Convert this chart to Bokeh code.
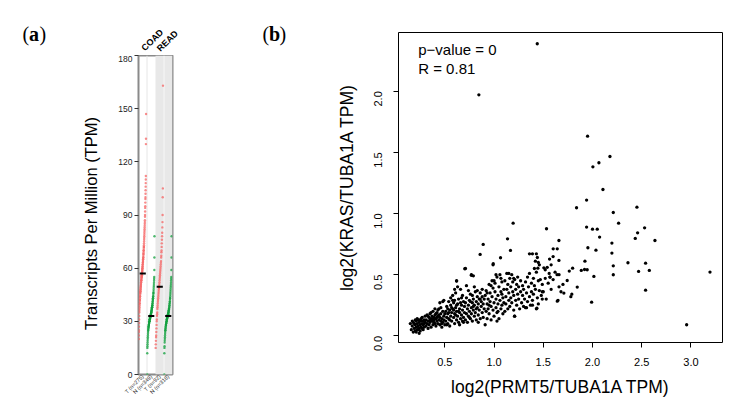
import math
from bokeh.plotting import figure
from bokeh.models import Range1d, FixedTicker, Label, BoxAnnotation, Span, NumeralTickFormatter
from bokeh.layouts import row, column
from bokeh.embed import file_html
from bokeh.resources import INLINE

# ---------------- Panel (a) data ----------------
group_labels = ["T (n=275)", "N (n=349)", "T (n=92)", "N (n=318)"]
cancer_types = ["COAD", "READ"]
medians_tpm = [57, 33, 49.5, 33]
yticks_a = [0, 30, 60, 90, 120, 150, 180]
ylabel_a = "Transcripts Per Million (TPM)"

tpm_t_coad = [20, 22, 24, 25, 27, 29, 31, 33, 35, 36,
              37, 38, 39, 40, 40, 41, 42, 42, 43, 44, 44, 45, 46, 46, 47, 47, 48, 48, 49, 49,
              50, 50, 51, 51, 52, 52, 53, 53, 53, 54, 54, 55, 55, 55, 56, 56, 56, 57, 57, 57,
              58, 58, 59, 59, 60, 60, 61, 61, 62, 62, 63, 63, 64, 64, 65, 65, 66, 66, 67, 68,
              68, 69, 70, 70, 71, 72, 72, 73, 74, 75,
              76, 77, 78, 79, 80, 81, 82, 83, 84, 85,
              86, 87, 89, 90, 92, 94, 95, 97, 99, 100, 102, 104, 106, 108, 110, 112, 130, 133, 147]
tpm_n_coad = [0, 12,
              15, 16, 17, 18, 19, 20, 21, 22, 23, 24,
              25, 25, 26, 26, 27, 27, 27, 28, 28, 28, 29, 29, 29, 30, 30, 30, 30, 31,
              31, 31, 31, 32, 32, 32, 32, 32, 33, 33, 33, 33, 33, 34, 34, 34, 34, 35, 35, 35,
              35, 36, 36, 36, 37, 37, 37, 38, 38, 38, 39, 39, 39, 40, 40, 41,
              41, 42, 42, 43, 43, 44, 44, 45, 46, 46, 47, 48, 49, 50, 51, 52, 53, 54,
              55, 59, 66, 78]
tpm_t_read = [15, 17, 19, 21, 22, 24, 26, 28, 30, 31, 33, 34, 35, 37, 38, 39, 40, 41, 42, 43,
              44, 45, 46, 47, 48, 49, 49, 50, 51, 52, 53, 54, 55, 56, 57, 58, 59, 60, 61, 62,
              63, 64, 66, 67, 69, 70, 72, 74, 76, 78, 80, 83, 86, 90, 100, 105, 163]
tpm_n_read = [0, 12, 15, 16, 18, 19, 20, 21, 22, 23, 24, 25, 25, 26, 26, 27, 27, 28, 28, 28,
              29, 29, 29, 30, 30, 30, 31, 31, 31, 31, 32, 32, 32, 32, 33, 33, 33, 33, 33, 34,
              34, 34, 34, 35, 35, 35, 36, 36, 36, 37, 37, 37, 38, 38, 39, 39, 40, 40, 41, 41,
              42, 43, 43, 44, 45, 46, 47, 48, 49, 50, 51, 52, 53, 54, 55, 59, 66, 78]

# ---------------- Panel (b) data ----------------
xticks_b = [0.5, 1.0, 1.5, 2.0, 2.5, 3.0]
yticks_b = [0.0, 0.5, 1.0, 1.5, 2.0]
xlabel_b = "log2(PRMT5/TUBA1A TPM)"
ylabel_b = "log2(KRAS/TUBA1A TPM)"
stat_lines = ["p\u2212value = 0", "R = 0.81"]

pts_low = [
    (0.15, 0.10), (0.16, 0.05), (0.17, 0.08), (0.18, 0.03), (0.18, 0.11), (0.19, 0.06), (0.20, 0.09),
    (0.20, 0.04), (0.21, 0.12), (0.21, 0.07), (0.22, 0.05), (0.22, 0.10), (0.23, 0.08), (0.23, 0.13),
    (0.24, 0.06), (0.24, 0.11), (0.25, 0.04), (0.25, 0.09), (0.26, 0.12), (0.26, 0.07), (0.27, 0.10),
    (0.27, 0.15), (0.28, 0.05), (0.28, 0.09), (0.29, 0.13), (0.29, 0.07), (0.30, 0.11), (0.30, 0.16),
    (0.19, 0.10), (0.22, 0.14), (0.24, 0.02), (0.26, 0.14), (0.28, 0.12), (0.17, 0.12), (0.20, 0.13),
    (0.23, 0.05), (0.25, 0.13), (0.27, 0.06), (0.29, 0.10), (0.21, 0.03),
    (0.31, 0.08), (0.31, 0.13), (0.32, 0.10), (0.32, 0.17), (0.33, 0.06), (0.33, 0.12), (0.34, 0.15),
    (0.34, 0.09), (0.35, 0.11), (0.35, 0.18), (0.36, 0.07), (0.36, 0.14), (0.37, 0.12), (0.37, 0.16),
    (0.38, 0.09), (0.38, 0.20), (0.39, 0.13), (0.39, 0.15), (0.40, 0.10), (0.40, 0.17), (0.41, 0.14),
    (0.41, 0.08), (0.42, 0.12), (0.42, 0.19), (0.43, 0.16), (0.43, 0.10), (0.44, 0.13), (0.44, 0.22),
    (0.45, 0.09), (0.45, 0.15), (0.46, 0.18), (0.46, 0.12), (0.47, 0.14), (0.47, 0.07), (0.48, 0.11),
    (0.48, 0.20), (0.49, 0.16), (0.49, 0.13), (0.50, 0.18), (0.50, 0.09), (0.36, 0.19), (0.38, 0.14),
    (0.40, 0.22), (0.42, 0.15), (0.44, 0.17), (0.46, 0.23), (0.48, 0.28), (0.49, 0.29), (0.45, 0.27),
    (0.43, 0.21), (0.41, 0.18), (0.39, 0.11), (0.35, 0.13), (0.33, 0.16), (0.47, 0.10),
]
pts_mid = [
    (0.51, 0.12), (0.51, 0.20), (0.52, 0.15), (0.52, 0.24), (0.53, 0.10), (0.53, 0.18), (0.54, 0.14),
    (0.54, 0.28), (0.55, 0.21), (0.55, 0.08), (0.56, 0.16), (0.56, 0.25), (0.57, 0.12), (0.57, 0.19),
    (0.58, 0.22), (0.58, 0.33), (0.59, 0.15), (0.59, 0.27), (0.60, 0.18), (0.60, 0.10), (0.61, 0.23),
    (0.61, 0.35), (0.62, 0.13), (0.62, 0.20), (0.63, 0.26), (0.63, 0.16), (0.64, 0.30), (0.64, 0.11),
    (0.65, 0.22), (0.65, 0.19), (0.66, 0.14), (0.66, 0.38), (0.67, 0.25), (0.67, 0.17), (0.68, 0.21),
    (0.68, 0.12), (0.69, 0.28), (0.69, 0.15), (0.70, 0.19), (0.70, 0.24), (0.62, 0.45), (0.63, 0.40),
    (0.60, 0.38), (0.58, 0.29), (0.56, 0.31), (0.59, 0.21), (0.61, 0.17), (0.57, 0.23), (0.64, 0.20),
    (0.66, 0.27), (0.68, 0.33), (0.53, 0.22), (0.55, 0.13), (0.52, 0.09), (0.54, 0.19), (0.65, 0.09),
    (0.67, 0.31), (0.62, 0.25), (0.69, 0.11), (0.60, 0.29),
    (0.71, 0.13), (0.71, 0.27), (0.72, 0.18), (0.72, 0.31), (0.73, 0.22), (0.73, 0.11), (0.74, 0.25),
    (0.74, 0.16), (0.75, 0.29), (0.75, 0.20), (0.76, 0.14), (0.76, 0.34), (0.77, 0.23), (0.77, 0.18),
    (0.78, 0.27), (0.78, 0.12), (0.79, 0.30), (0.79, 0.21), (0.80, 0.25), (0.80, 0.16), (0.81, 0.36),
    (0.81, 0.19), (0.82, 0.28), (0.82, 0.13), (0.83, 0.23), (0.83, 0.32), (0.84, 0.17), (0.84, 0.26),
    (0.85, 0.30), (0.85, 0.21), (0.86, 0.14), (0.86, 0.35), (0.87, 0.24), (0.87, 0.28), (0.88, 0.19),
    (0.88, 0.32), (0.89, 0.26), (0.89, 0.15), (0.90, 0.30), (0.90, 0.22), (0.72, 0.41), (0.74, 0.37),
    (0.76, 0.28), (0.78, 0.33), (0.80, 0.40), (0.83, 0.37), (0.86, 0.30), (0.88, 0.38), (0.79, 0.24),
    (0.75, 0.15), (0.77, 0.50), (0.79, 0.49), (0.71, 0.55), (0.84, 0.11), (0.82, 0.22),
]
pts_high = [
    (0.91, 0.09), (0.91, 0.33), (0.92, 0.20), (0.92, 0.37), (0.93, 0.26), (0.93, 0.14), (0.94, 0.30),
    (0.94, 0.22), (0.95, 0.42), (0.95, 0.18), (0.96, 0.28), (0.96, 0.35), (0.97, 0.24), (0.97, 0.13),
    (0.98, 0.32), (0.98, 0.45), (0.99, 0.21), (0.99, 0.39), (1.00, 0.27), (1.00, 0.16), (1.01, 0.36),
    (1.01, 0.43), (1.02, 0.23), (1.02, 0.30), (1.03, 0.48), (1.03, 0.19), (1.04, 0.33), (1.04, 0.26),
    (1.05, 0.40), (1.05, 0.14), (1.06, 0.29), (1.06, 0.50), (1.07, 0.22), (1.07, 0.36), (1.08, 0.44),
    (1.08, 0.25), (1.09, 0.31), (1.09, 0.18), (1.10, 0.38), (1.10, 0.27), (0.99, 0.58), (1.02, 0.50),
    (1.07, 0.47), (0.93, 0.35), (0.97, 0.41), (1.04, 0.20), (1.00, 0.45), (0.95, 0.25), (1.08, 0.34),
    (1.03, 0.12),
    (1.11, 0.20), (1.11, 0.45), (1.12, 0.32), (1.12, 0.26), (1.13, 0.51), (1.13, 0.38), (1.14, 0.22),
    (1.14, 0.42), (1.15, 0.29), (1.15, 0.35), (1.16, 0.47), (1.16, 0.24), (1.17, 0.40), (1.17, 0.31),
    (1.18, 0.50), (1.18, 0.27), (1.19, 0.36), (1.19, 0.44), (1.20, 0.21), (1.20, 0.33), (1.21, 0.16),
    (1.21, 0.46), (1.22, 0.38), (1.22, 0.29), (1.23, 0.42), (1.23, 0.25), (1.24, 0.48), (1.24, 0.34),
    (1.25, 0.30), (1.25, 0.40), (1.26, 0.22), (1.27, 0.36), (1.27, 0.45), (1.28, 0.27), (1.29, 0.41),
    (1.29, 0.33), (1.30, 0.38), (1.30, 0.24), (1.15, 0.51), (1.20, 0.47),
    (1.31, 0.30), (1.32, 0.44), (1.32, 0.23), (1.33, 0.35), (1.34, 0.48), (1.34, 0.28), (1.35, 0.40),
    (1.36, 0.32), (1.36, 0.51), (1.37, 0.25), (1.38, 0.43), (1.38, 0.36), (1.39, 0.29), (1.40, 0.47),
    (1.40, 0.34), (1.41, 0.41), (1.42, 0.38), (1.43, 0.22), (1.43, 0.52), (1.44, 0.31), (1.45, 0.45),
    (1.45, 0.26), (1.46, 0.37), (1.47, 0.46), (1.48, 0.33), (1.49, 0.42), (1.50, 0.36), (1.41, 0.55),
    (1.46, 0.58), (1.39, 0.25), (1.36, 0.67), (1.39, 0.67), (1.43, 0.67), (1.44, 0.64), (1.42, 0.61),
    (1.45, 0.60), (1.445, 0.553), (1.506, 0.556), (1.52, 0.54),
]
pts_sparse = [
    (1.52, 0.47), (1.53, 0.30), (1.55, 0.43), (1.56, 0.51), (1.57, 0.48), (1.58, 0.38), (1.60, 0.46),
    (1.62, 0.52), (1.64, 0.50), (1.65, 0.29), (1.66, 0.40), (1.68, 0.36), (1.70, 0.42), (1.642, 0.283),
    (1.709, 0.349), (1.743, 0.452), (1.66, 0.50), (1.567, 0.48), (1.564, 0.627), (1.601, 0.711),
    (1.642, 0.711), (1.659, 0.616), (1.533, 0.875), (1.659, 0.779), (1.60, 0.648), (1.58, 0.58),
    (1.54, 0.56), (1.923, 0.61), (1.886, 0.534), (1.49, 0.36), (1.49, 0.30), (1.435, 0.226),
    (1.33, 0.23), (1.208, 0.16), (0.992, 0.589),
    (1.439, 2.388), (0.846, 1.97), (1.95, 1.632), (2.004, 1.382), (2.065, 1.415), (2.177, 1.466),
    (2.106, 1.196), (1.94, 1.11), (1.838, 1.047), (2.451, 1.052), (2.211, 1.008), (1.194, 0.921),
    (2.265, 0.921), (1.94, 0.889), (2.0, 0.872), (2.048, 0.872), (2.529, 0.883), (2.458, 0.842),
    (2.072, 0.807), (1.137, 0.793), (2.434, 0.796), (2.634, 0.779), (0.89, 0.747), (2.197, 0.758),
    (1.953, 0.72), (2.035, 0.70), (1.167, 0.698), (2.197, 0.676), (0.859, 0.665), (1.066, 0.638),
    (2.36, 0.597), (2.539, 0.594), (2.211, 0.572), (1.919, 0.542), (1.946, 0.54), (1.764, 0.529),
    (1.798, 0.553), (2.014, 0.485), (2.211, 0.499), (3.193, 0.521), (2.468, 0.526), (2.577, 0.534),
    (2.539, 0.373), (1.991, 0.275), (2.956, 0.09), (1.845, 0.398), (1.79, 0.34), (1.78, 0.32),
    (0.703, 0.548), (0.77, 0.495), (0.62, 0.447),
]

SANS = "Liberation Sans"
SERIF = "Liberation Serif"
H = 405          # full layout height (page starts at 0,0)
TOP_A = 55       # height of the strip above panel (a) holding COAD / READ


def blank_fig(w, h):
    f = figure(width=w, height=h, x_range=Range1d(0, w), y_range=Range1d(0, h),
               x_axis_type=None, y_axis_type=None, min_border=0,
               output_backend="svg", toolbar_location=None)
    f.outline_line_color = None
    f.grid.visible = False
    f.frame_align = False
    return f


def panel_tag(f, letter, x0, y_top):
    h = f.height
    for txt, dx, style in [("(", 0, "normal"), (letter, 6.5, "bold"), (")", 17.0, "normal")]:
        f.add_layout(Label(x=x0 + dx, y=h - y_top, text=txt, text_align="left",
                           text_baseline="middle", text_font=SERIF, text_font_style=style,
                           text_font_size="20px", text_color="black"))


# ---------- left margin: "(a)" and y title ----------
fa = blank_fig(108, H)
panel_tag(fa, "a", 22, 33)
fa.add_layout(Label(x=90, y=H - 223, text=ylabel_a, angle=math.pi / 2,
                    text_align="center", text_baseline="middle", text_font=SANS,
                    text_font_size="16.5px", text_color="black"))

# ---------- strip above panel (a): cancer types ----------
ta = blank_fig(150, TOP_A)
for ct, ax_, ay_ in zip(cancer_types, [38.0, 53.5], [2.5, 2.0]):
    ta.add_layout(Label(x=ax_, y=ay_, text=ct, angle=math.pi / 4, text_align="left",
                        text_baseline="bottom", text_font=SANS, text_font_style="bold",
                        text_font_size="9px", text_color="black"))

# ---------------- Panel (a) ----------------
pa = figure(width=150, height=H - TOP_A, x_range=Range1d(0, 4), y_range=Range1d(0, 180),
            output_backend="svg", toolbar_location=None,
            min_border_left=30, min_border_right=86, min_border_top=0, min_border_bottom=31)
pa.frame_align = False
pa.xgrid.visible = False
pa.ygrid.visible = False
pa.outline_line_color = "#8a8a8a"
pa.outline_line_width = 2
pa.add_layout(BoxAnnotation(left=2, right=4, fill_color="#e8e8e8", fill_alpha=1.0,
                            line_color=None, level="underlay"))
pa.add_layout(Span(location=1, dimension="height", line_color="#e6e6e6", line_width=1, level="underlay"))
pa.add_layout(Span(location=3, dimension="height", line_color="#f7f7f7", line_width=1, level="underlay"))

point_centers = [0.46, 1.45, 2.45, 3.46]
half_w = 0.43
series = [tpm_t_coad, tpm_n_coad, tpm_t_read, tpm_n_read]
colors = ["#f66666", "#12a03e", "#f66666", "#12a03e"]
for vals, c, col in zip(series, point_centers, colors):
    v = sorted(vals)
    n = len(v)
    xs = [c - half_w + 2 * half_w * i / (n - 1) for i in range(n)]
    pa.scatter(xs, v, size=2.4, color=col, alpha=0.75, line_color=None)

tick_pos = [0.5, 1.5, 2.5, 3.5]
pa.segment(x0=[t - 0.36 for t in tick_pos], x1=[t + 0.36 for t in tick_pos],
           y0=medians_tpm, y1=medians_tpm, line_color="black", line_width=2)

pa.yaxis.ticker = FixedTicker(ticks=yticks_a)
pa.yaxis.axis_line_color = None
pa.yaxis.major_tick_out = 4
pa.yaxis.major_tick_in = 0
pa.yaxis.minor_tick_line_color = None
pa.yaxis.major_tick_line_color = "#333333"
pa.yaxis.major_label_standoff = 2
pa.yaxis.major_label_text_font = SANS
pa.yaxis.major_label_text_font_size = "8.5px"
pa.yaxis.major_label_text_color = "#222222"

pa.xaxis.ticker = FixedTicker(ticks=tick_pos)
pa.xaxis.major_label_overrides = {t: lab for t, lab in zip(tick_pos, group_labels)}
pa.xaxis.major_label_orientation = math.pi / 4
pa.xaxis.major_label_text_font = SANS
pa.xaxis.major_label_text_font_size = "5.5px"
pa.xaxis.major_label_text_color = "#222222"
pa.xaxis.major_label_standoff = 1
pa.xaxis.major_tick_out = 0
pa.xaxis.major_tick_in = 0
pa.xaxis.axis_line_color = None
pa.xaxis.major_tick_line_color = None
pa.xaxis.minor_tick_line_color = None

col_a = column(ta, pa)

# ---------- spacer for "(b)" ----------
fb = blank_fig(72, H)
panel_tag(fb, "b", 4, 33)

# ---------------- Panel (b) ----------------
pb = figure(width=414, height=H, x_range=Range1d(0.03, 3.32), y_range=Range1d(-0.055, 2.48),
            output_backend="svg", toolbar_location=None,
            min_border_left=68, min_border_right=22, min_border_top=32, min_border_bottom=63)
pb.frame_align = False
pb.xgrid.visible = False
pb.ygrid.visible = False
pb.outline_line_color = "black"
pb.outline_line_width = 1

all_pts = pts_low + pts_mid + pts_high + pts_sparse
pb.scatter([p[0] for p in all_pts], [p[1] for p in all_pts], size=3.3, color="black", line_color=None)

for ax, ticks in [(pb.xaxis, xticks_b), (pb.yaxis, yticks_b)]:
    ax.ticker = FixedTicker(ticks=ticks)
    ax.formatter = NumeralTickFormatter(format="0.0")
    ax.axis_line_color = None
    ax.major_tick_out = 5
    ax.major_tick_in = 0
    ax.minor_tick_line_color = None
    ax.major_tick_line_color = "black"
    ax.major_label_text_font = SANS
    ax.major_label_text_font_size = "11px"
    ax.major_label_text_color = "black"
    ax.axis_label_text_font = SANS
    ax.axis_label_text_font_size = "17.5px"
    ax.axis_label_text_font_style = "normal"
    ax.axis_label_text_color = "black"

pb.xaxis.major_label_standoff = 10
pb.yaxis.major_label_standoff = 15
pb.yaxis.major_label_orientation = math.pi / 2
pb.xaxis.axis_label = xlabel_b
pb.yaxis.axis_label = ylabel_b
pb.xaxis.axis_label_standoff = 8
pb.yaxis.axis_label_standoff = 11

for txt, yv in zip(stat_lines, [2.34, 2.186]):
    pb.add_layout(Label(x=0.23, y=yv, text=txt, text_align="left", text_baseline="middle",
                        text_font=SANS, text_font_size="15px", text_color="black"))

layout = row(fa, col_a, fb, pb)
open("out.html", "w").write(file_html(layout, INLINE))
